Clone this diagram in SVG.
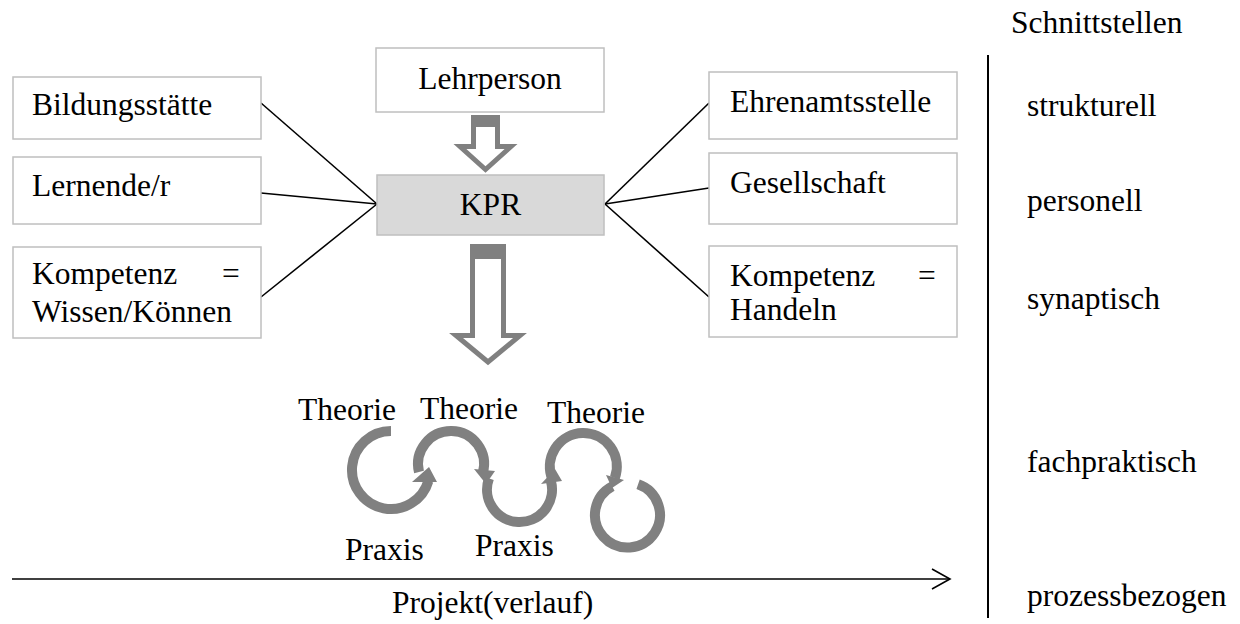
<svg xmlns="http://www.w3.org/2000/svg" width="1240" height="624" viewBox="0 0 1240 624">
<style>
text{font-family:"Liberation Serif","Times New Roman",serif;font-size:31.5px;fill:#000}
.box{fill:#fff;stroke:#bfbfbf;stroke-width:1.5}
.kpr{fill:#d9d9d9;stroke:#bfbfbf;stroke-width:1.5}
.con{stroke:#000;stroke-width:1.6;fill:none}
.blk{fill:#fff;stroke:#808080;stroke-width:5;stroke-linejoin:miter}
.bar{fill:#808080}
.cyc{fill:none;stroke:#808080;stroke-width:10}
.head{fill:#808080}
.mid{text-anchor:middle}
</style>
<rect width="1240" height="624" fill="#fff"/>

<g id="connectors">
  <line class="con" x1="261" y1="103" x2="377" y2="204"/>
  <line class="con" x1="261" y1="193" x2="377" y2="204"/>
  <line class="con" x1="261" y1="297" x2="377" y2="204"/>
  <line class="con" x1="605" y1="204" x2="709" y2="103"/>
  <line class="con" x1="605" y1="204" x2="709" y2="188"/>
  <line class="con" x1="605" y1="204" x2="709" y2="297"/>
</g>

<g id="node-lehrperson">
  <rect class="box" x="376" y="48" width="228" height="64"/>
  <text class="mid" x="490" y="89">Lehrperson</text>
</g>

<g id="arrow-top">
  <polygon class="blk" points="473.5,119 497.5,119 497.5,146.5 511,146.5 485.5,169.5 460,146.5 473.5,146.5"/>
  <rect class="bar" x="471" y="115" width="29" height="12"/>
</g>

<g id="node-kpr">
  <rect class="kpr" x="377" y="175" width="227" height="60"/>
  <text class="mid" x="490.5" y="215">KPR</text>
</g>

<g id="arrow-bottom">
  <polygon class="blk" points="472.5,250 503.5,250 503.5,335.5 520,335.5 488,362 456,335.5 472.5,335.5"/>
  <rect class="bar" x="470" y="244" width="36" height="15"/>
</g>

<g id="node-bildungsstaette">
  <rect class="box" x="13" y="77" width="248" height="62"/>
  <text x="32" y="115">Bildungsstätte</text>
</g>
<g id="node-lernende">
  <rect class="box" x="13" y="157" width="248" height="67"/>
  <text x="32" y="196">Lernende/r</text>
</g>
<g id="node-kompetenz-wissen">
  <rect class="box" x="13" y="247" width="248" height="91"/>
  <text x="32" y="284">Kompetenz</text>
  <text x="222" y="284">=</text>
  <text x="32" y="322">Wissen/Können</text>
</g>

<g id="node-ehrenamtsstelle">
  <rect class="box" x="709" y="72" width="248" height="67"/>
  <text x="730" y="112">Ehrenamtsstelle</text>
</g>
<g id="node-gesellschaft">
  <rect class="box" x="709" y="153" width="248" height="71"/>
  <text x="730" y="193">Gesellschaft</text>
</g>
<g id="node-kompetenz-handeln">
  <rect class="box" x="709" y="246" width="248" height="91"/>
  <text x="730" y="286">Kompetenz</text>
  <text x="918" y="286">=</text>
  <text x="730" y="320">Handeln</text>
</g>

<g id="cycle">
  <!-- arc 1: center (391,470) r 39, from top ccw to right -->
  <path class="cyc" d="M391,431 A39,39 0 1 0 428.4,481"/>
  <polygon class="head" points="412,482 437,482 429,467"/>
  <!-- arc 2: center (451,464) r 33 -->
  <path class="cyc" d="M419,472 A33,33 0 1 1 482.8,473"/>
  <polygon class="head" points="474,469 495,471 486,484"/>
  <!-- arc 3: center (519.5,489.5) r 32.5 -->
  <path class="cyc" d="M489,478.4 A32.5,32.5 0 1 0 550.9,481"/>
  <polygon class="head" points="541,484 562,481 555,469"/>
  <!-- arc 4: center (583.5,466.5) r 33.5 -->
  <path class="cyc" d="M552.5,479.6 A33.5,33.5 0 1 1 614.8,478"/>
  <polygon class="head" points="606,475 624,480 612,488"/>
  <!-- ring 5: center (627.5,515) r 32.5 -->
  <path class="cyc" d="M638.1,484.3 A32.5,32.5 0 1 1 612.2,486.3"/>
</g>

<g id="labels-cycle">
  <text x="298" y="420">Theorie</text>
  <text x="420" y="419">Theorie</text>
  <text x="547" y="423">Theorie</text>
  <text x="345" y="560">Praxis</text>
  <text x="475" y="556">Praxis</text>
</g>

<g id="axis">
  <line class="con" x1="12" y1="579" x2="949" y2="579" stroke-width="2"/>
  <polyline class="con" points="932,569 950,579 932,589" stroke-width="2"/>
  <text x="392" y="613">Projekt(verlauf)</text>
</g>

<g id="schnittstellen">
  <line x1="988" y1="55" x2="988" y2="618" stroke="#000" stroke-width="2"/>
  <text x="1011" y="33">Schnittstellen</text>
  <text x="1027" y="116">strukturell</text>
  <text x="1027" y="211">personell</text>
  <text x="1027" y="309">synaptisch</text>
  <text x="1027" y="472">fachpraktisch</text>
  <text x="1027" y="606">prozessbezogen</text>
</g>
</svg>
